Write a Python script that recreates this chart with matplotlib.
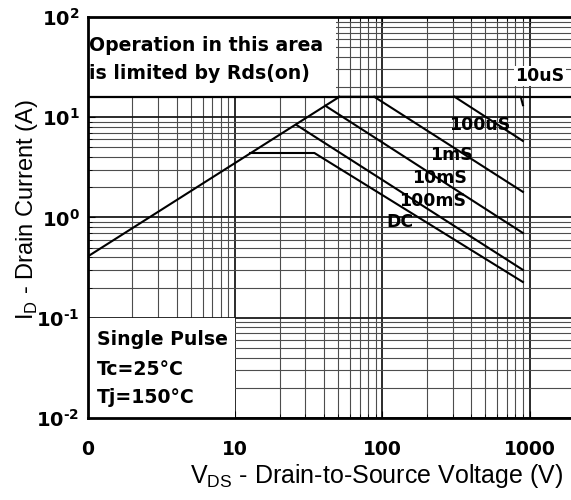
import matplotlib
matplotlib.use("Agg")
import matplotlib.pyplot as plt
from matplotlib.patches import Rectangle
from matplotlib.ticker import FixedLocator, LogLocator, NullFormatter

plt.rcParams['font.family'] = ['Liberation Sans', 'DejaVu Sans']
plt.rcParams['mathtext.fontset'] = 'custom'
plt.rcParams['mathtext.rm'] = 'Liberation Sans'
plt.rcParams['mathtext.bf'] = 'DejaVu Sans:bold'

# SOA curves (Vds in V, Id in A)
rds_v = [1, 51]
rds_i = [0.41, 16]
us10_v = [51, 870, 900]
us10_i = [16, 16, 13.2]
us100_v = [309, 900]
us100_i = [16, 5.8]
ms1_v = [88, 900]
ms1_i = [16, 1.8]
ms10_v = [41, 900]
ms10_i = [13, 0.70]
ms100_v = [26, 900]
ms100_i = [8.4, 0.30]
dc_v = [12.6, 34.5, 900]
dc_i = [4.4, 4.4, 0.227]
idm = 16

curve_labels = ["10uS", "100uS", "1mS", "10mS", "100mS", "DC"]
label_v = [1170, 457, 295, 244, 219, 131]
label_i = [25.8, 8.4, 4.2, 2.5, 1.46, 0.90]

xticks = [1, 10, 100, 1000]
xtick_labels = ["0", "10", "100", "1000"]
yticks = [0.01, 0.1, 1, 10, 100]
ytick_labels = ["$\\mathbf{10^{\u2010 2}}$", "$\\mathbf{10^{\u2010 1}}$", r"$\mathbf{10^{0}}$",
                r"$\mathbf{10^{1}}$", r"$\mathbf{10^{2}}$"]

bold = dict(family="DejaVu Sans", fontweight="bold")

W, H = 571, 500
fig = plt.figure(figsize=(W / 100, H / 100), dpi=100)
ax = fig.add_axes([88 / W, 1 - 418 / H, (574 - 88) / W, (418 - 17) / H])
ax.set_xscale("log")
ax.set_yscale("log")
ax.set_xlim(1, 2000)
ax.set_ylim(0.01, 100)
ax.set_axisbelow(True)

ax.xaxis.set_major_locator(FixedLocator(xticks))
ax.set_xticklabels(xtick_labels, fontsize=13.5, **bold)
ax.yaxis.set_major_locator(FixedLocator(yticks))
ax.set_yticklabels(ytick_labels, fontsize=14)
ax.xaxis.set_minor_locator(LogLocator(base=10, subs=range(2, 10)))
ax.yaxis.set_minor_locator(LogLocator(base=10, subs=range(2, 10)))
ax.xaxis.set_minor_formatter(NullFormatter())
ax.yaxis.set_minor_formatter(NullFormatter())
ax.tick_params(which="both", direction="in", top=True, right=False)
ax.tick_params(axis="x", which="major", pad=16, length=5)
ax.tick_params(axis="y", which="major", pad=6, length=5)
ax.tick_params(which="minor", length=3)

ax.grid(True, which="major", color="0.1", lw=1.3)
ax.grid(True, which="minor", color="0.3", lw=0.8)
for s in ["left", "bottom", "top"]:
    ax.spines[s].set_linewidth(2)

# white boxes behind the notes hide the grid
ax.add_patch(Rectangle((1, idm), 48.6 - 1, 100 - idm, facecolor="white", edgecolor="none", zorder=1))
ax.add_patch(Rectangle((1, 0.01), 10 - 1, 0.1 - 0.01, facecolor="white", edgecolor="none", zorder=1))

ax.axhline(idm, color="black", lw=1.6, zorder=2)
line_kw = dict(color="black", lw=1.5, zorder=3)
ax.plot(rds_v, rds_i, **line_kw)
ax.plot(us10_v, us10_i, **line_kw)
ax.plot(us100_v, us100_i, **line_kw)
ax.plot(ms1_v, ms1_i, **line_kw)
ax.plot(ms10_v, ms10_i, **line_kw)
ax.plot(ms100_v, ms100_i, **line_kw)
ax.plot(dc_v, dc_i, **line_kw)

for name, v, i in zip(curve_labels, label_v, label_i):
    bbox = dict(facecolor="white", edgecolor="none", pad=1) if name == "10uS" else None
    ax.text(v, i, name, fontsize=12.5, ha="center", va="center",
            bbox=bbox, zorder=4, **bold)

notes = [("Operation in this area", 0.002, 0.93), ("is limited by Rds(on)", 0.002, 0.86),
         ("Single Pulse", 0.018, 0.195), ("Tc=25°C", 0.018, 0.122), ("Tj=150°C", 0.018, 0.05)]
for txt, x, y in notes:
    ax.text(x, y, txt, transform=ax.transAxes, fontsize=13.6, va="center", zorder=4, **bold)

ax.set_xlabel(r"V$_{\mathrm{DS}}$ - Drain-to-Source Voltage (V)", fontsize=18)
ax.set_ylabel(r"I$_{\mathrm{D}}$ - Drain Current (A)", fontsize=17)
ax.xaxis.set_label_coords((377 - 88) / (574 - 88), -(462 - 418) / (418 - 17))
ax.yaxis.set_label_coords(-(88 - 40) / (574 - 88), (418 - 210) / (418 - 17))

fig.savefig("out.png", dpi=100)
